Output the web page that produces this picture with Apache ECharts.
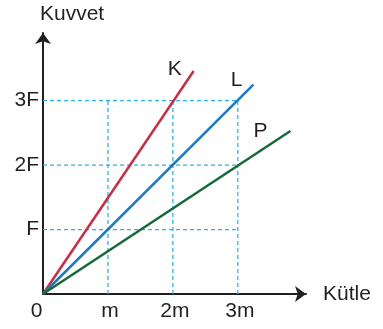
<!DOCTYPE html>
<html>
<head>
<meta charset="utf-8">
<script src="https://cdn.jsdelivr.net/npm/echarts@6/dist/echarts.min.js"></script>
</head>
<body style="margin:0">
<div id="container" style="width:383px;height:329px"></div>
<script>
// line names and end points (units of m and F)
var names = ['K', 'L', 'P'];
var endX = [2.32, 3.24, 3.81];
var endY = [3.46, 3.25, 2.53];
// axis labels
var xTickLabels = ['0', 'm', '2m', '3m'];
var yTickLabels = ['', 'F', '2F', '3F'];
var guideTicks = [1, 2, 3];

var colors = ['#c62f42', '#1f78c1', '#15693b'];
var labelGap = [12, 11, 23];
var labelDy = [-2, -4, 0];
var ink = '#231f20';
var font = "'Liberation Sans', Arial, sans-serif";

var chart = echarts.init(document.getElementById('container'));

var series = [];
// dashed guide lines
guideTicks.forEach(function (v) {
    var top = guideTicks[guideTicks.length - 1];
    [[[v, 0], [v, top]], [[0, v], [top, v]]].forEach(function (seg) {
        series.push({
            type: 'line', data: seg, showSymbol: false, silent: true, z: 1,
            lineStyle: {color: '#2cb3ec', width: 1.3, type: [4, 3]}
        });
    });
});
names.forEach(function (n, i) {
    series.push({
        name: n, type: 'line', showSymbol: true, symbolSize: 0, z: 3,
        lineStyle: {color: colors[i], width: 2.5},
        data: [[0, 0], {
            value: [endX[i], endY[i]],
            label: {
                show: true, position: 'left', distance: labelGap[i], offset: [0, labelDy[i]],
                formatter: n, fontSize: 21, color: ink, fontFamily: font
            }
        }]
    });
});

var axisLine = {
    show: true, symbol: ['none', 'arrow'], symbolSize: [12, 11],
    lineStyle: {color: ink, width: 2}
};

chart.setOption({
    animation: false,
    title: {
        text: 'Kuvvet', left: 35, top: -1,
        textStyle: {fontSize: 21, fontWeight: 'normal', color: ink, fontFamily: font}
    },
    grid: {left: 43, right: 77, top: 33, bottom: 35},
    xAxis: {
        type: 'value', min: 0, max: 4.05, interval: 1,
        name: 'Kütle', nameLocation: 'end', nameGap: 17,
        nameTextStyle: {fontSize: 21, color: ink, fontFamily: font},
        axisLine: axisLine, axisTick: {show: false}, splitLine: {show: false},
        axisLabel: {
            margin: 7, fontSize: 21, color: ink, fontFamily: font,
            formatter: function (v) {
                if (v === 0) return '{z|0}';
                return xTickLabels[v] ? '{r|' + xTickLabels[v] + '}' : '';
            },
            rich: {
                z: {fontSize: 21, color: ink, fontFamily: font, padding: [0, 13, 0, 0]},
                r: {fontSize: 21, color: ink, fontFamily: font, padding: [0, 0, 0, 4]}
            }
        }
    },
    yAxis: {
        type: 'value', min: 0, max: 4.05, interval: 1,
        axisLine: axisLine, axisTick: {show: false}, splitLine: {show: false},
        axisLabel: {
            margin: 4, fontSize: 21, color: ink, fontFamily: font,
            formatter: function (v) { return yTickLabels[v] || ''; }
        }
    },
    series: series
});
</script>
</body>
</html>
